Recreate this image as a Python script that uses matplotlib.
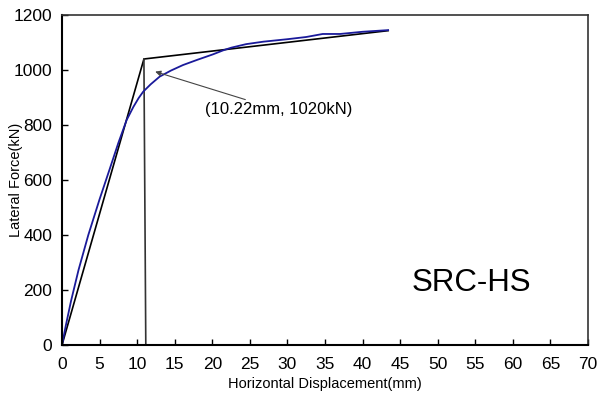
import numpy as np
import matplotlib
matplotlib.use("Agg")
import matplotlib.pyplot as plt

# test curve (blue)
disp_test = [0, 0.5, 1.2, 2.2, 3.5, 5.0, 6.3, 7.5, 8.6, 9.5, 10.2, 10.8, 11.8, 13.0, 14.5, 16.1,
             18.0, 20.1, 21.5, 22.5, 24.5, 26.8, 30.0, 32.5, 34.7, 37.0, 40.0, 43.4]
force_test = [0, 70, 160, 273, 400, 530, 636, 735, 818, 866, 898, 921, 948, 976, 998, 1018,
              1037, 1057, 1072, 1081, 1094, 1103, 1112, 1120, 1131, 1131, 1139, 1145]

# bilinear idealisation (black)
disp_bi = [0, 10.9, 43.4]
force_bi = [0, 1040, 1143]
disp_yield = [10.9, 11.15]
force_yield = [1040, 0]

x_ticks = list(range(0, 75, 5))
y_ticks = list(range(0, 1400, 200))

plt.rcParams['font.family'] = ['Liberation Sans', 'DejaVu Sans']

fig = plt.figure(figsize=(5.98, 4.01), dpi=100)
ax = fig.add_axes([0.1037, 0.1397, 0.8796, 0.8229])

ax.plot(disp_bi, force_bi, color="black", lw=1.2)
ax.plot(disp_yield, force_yield, color="#333333", lw=1.2)
ax.plot(disp_test, force_test, color="#1a1a9a", lw=1.3)

ax.annotate("(10.22mm, 1020kN)", xy=(12.4, 994), xytext=(19.0, 855),
            fontsize=12, va="center", ha="left",
            arrowprops=dict(arrowstyle="-|>", color="#444444", lw=0.8,
                            mutation_scale=8, shrinkA=0, shrinkB=0))

ax.text(54.5, 225, "SRC-HS", fontsize=22.5, ha="center", va="center")

ax.set_xlim(0, 70)
ax.set_ylim(0, 1200)
ax.set_xticks(x_ticks)
ax.set_yticks(y_ticks)
ax.tick_params(direction="in", length=4, width=1, labelsize=12.5, pad=7)
ax.tick_params(axis="x", pad=9)

for side in ["left", "bottom"]:
    ax.spines[side].set_linewidth(1.5)
for side in ["top", "right"]:
    ax.spines[side].set_linewidth(1.2)
    ax.spines[side].set_color("#333333")

ax.set_xlabel("Horizontal Displacement(mm)", fontsize=10.5, labelpad=3)
ax.set_ylabel("Lateral Force(kN)", fontsize=10.5)
ax.yaxis.set_label_coords(-0.074, 0.5)

fig.savefig("out.png", dpi=100)
